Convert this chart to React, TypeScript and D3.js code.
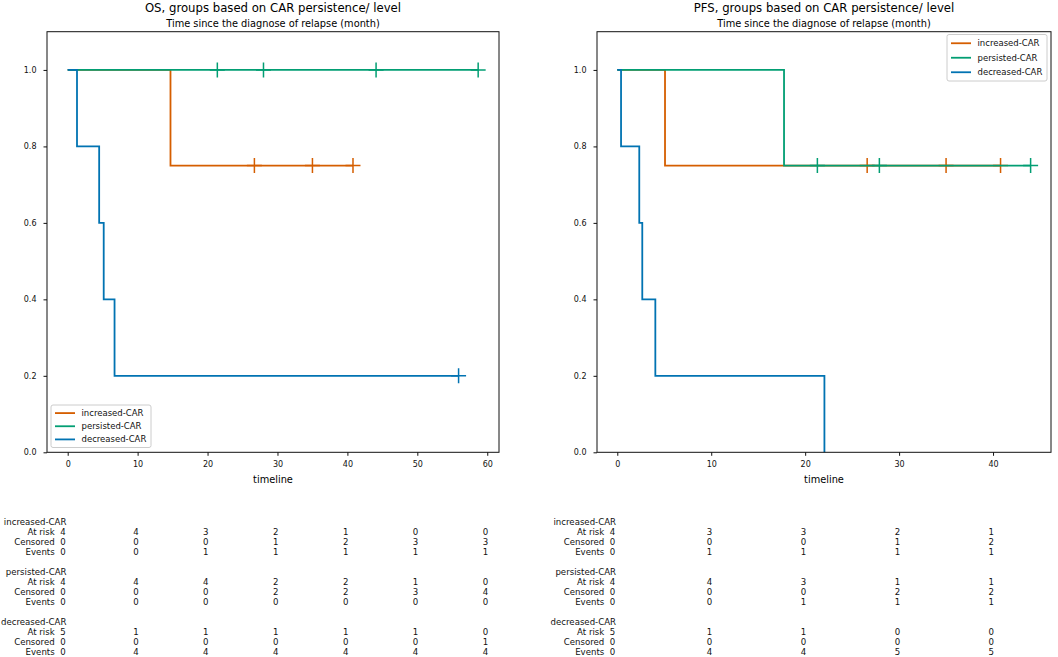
import { useEffect, useRef } from 'react';
import * as d3 from 'd3';

const groupNames = ['increased-CAR', 'persisted-CAR', 'decreased-CAR'];
const groupColors = ['#d55e00', '#029e73', '#0173b2'];

// OS curves (time in months, survival probability, censor times)
const osIncreasedTimes = [0, 14.7, 26.7, 35.0, 40.8];
const osIncreasedSurv = [1, 0.75, 0.75, 0.75, 0.75];
const osIncreasedCensor = [26.7, 35.0, 40.8];
const osPersistedTimes = [0, 21.4, 28.0, 44.1, 58.7];
const osPersistedSurv = [1, 1, 1, 1, 1];
const osPersistedCensor = [21.4, 28.0, 44.1, 58.7];
const osDecreasedTimes = [0, 1.33, 4.5, 5.15, 6.7, 55.9];
const osDecreasedSurv = [1, 0.8, 0.6, 0.4, 0.2, 0.2];
const osDecreasedCensor = [55.9];

// PFS curves
const pfsIncreasedTimes = [0, 5.08, 26.6, 35.0, 40.8];
const pfsIncreasedSurv = [1, 0.75, 0.75, 0.75, 0.75];
const pfsIncreasedCensor = [26.6, 35.0, 40.8];
const pfsPersistedTimes = [0, 17.75, 21.3, 27.9, 44.0];
const pfsPersistedSurv = [1, 0.75, 0.75, 0.75, 0.75];
const pfsPersistedCensor = [21.3, 27.9, 44.0];
const pfsDecreasedTimes = [0, 0.4, 2.34, 2.66, 4.05, 22.05];
const pfsDecreasedSurv = [1, 0.8, 0.6, 0.4, 0.2, 0];
const pfsDecreasedCensor: number[] = [];

// at-risk tables
const osTicks = [0, 10, 20, 30, 40, 50, 60];
const osIncreasedAtRisk = [4, 4, 3, 2, 1, 0, 0];
const osIncreasedCensored = [0, 0, 0, 1, 2, 3, 3];
const osIncreasedEvents = [0, 0, 1, 1, 1, 1, 1];
const osPersistedAtRisk = [4, 4, 4, 2, 2, 1, 0];
const osPersistedCensored = [0, 0, 0, 2, 2, 3, 4];
const osPersistedEvents = [0, 0, 0, 0, 0, 0, 0];
const osDecreasedAtRisk = [5, 1, 1, 1, 1, 1, 0];
const osDecreasedCensored = [0, 0, 0, 0, 0, 0, 1];
const osDecreasedEvents = [0, 4, 4, 4, 4, 4, 4];

const pfsTicks = [0, 10, 20, 30, 40];
const pfsIncreasedAtRisk = [4, 3, 3, 2, 1];
const pfsIncreasedCensored = [0, 0, 0, 1, 2];
const pfsIncreasedEvents = [0, 1, 1, 1, 1];
const pfsPersistedAtRisk = [4, 4, 3, 1, 1];
const pfsPersistedCensored = [0, 0, 0, 2, 2];
const pfsPersistedEvents = [0, 0, 1, 1, 1];
const pfsDecreasedAtRisk = [5, 1, 1, 0, 0];
const pfsDecreasedCensored = [0, 0, 0, 0, 0];
const pfsDecreasedEvents = [0, 4, 4, 5, 5];

const yTicks = [0, 0.2, 0.4, 0.6, 0.8, 1.0];
const rowLabels = ['At risk', 'Censored', 'Events'];

const FONT = 'DejaVu Sans, sans-serif';

const panels = [
  {
    title: 'OS, groups based on CAR persistence/ level',
    left: 47,
    right: 499,
    xDomain: [-2.96, 61.68],
    ticks: osTicks,
    curves: [
      { times: osIncreasedTimes, surv: osIncreasedSurv, censor: osIncreasedCensor },
      { times: osPersistedTimes, surv: osPersistedSurv, censor: osPersistedCensor },
      { times: osDecreasedTimes, surv: osDecreasedSurv, censor: osDecreasedCensor },
    ],
    table: [
      [osIncreasedAtRisk, osIncreasedCensored, osIncreasedEvents],
      [osPersistedAtRisk, osPersistedCensored, osPersistedEvents],
      [osDecreasedAtRisk, osDecreasedCensored, osDecreasedEvents],
    ],
    legend: { x: 51, y: 405, w: 100, h: 42.5 },
  },
  {
    title: 'PFS, groups based on CAR persistence/ level',
    left: 597,
    right: 1051,
    xDomain: [-2.16, 46.17],
    ticks: pfsTicks,
    curves: [
      { times: pfsIncreasedTimes, surv: pfsIncreasedSurv, censor: pfsIncreasedCensor },
      { times: pfsPersistedTimes, surv: pfsPersistedSurv, censor: pfsPersistedCensor },
      { times: pfsDecreasedTimes, surv: pfsDecreasedSurv, censor: pfsDecreasedCensor },
    ],
    table: [
      [pfsIncreasedAtRisk, pfsIncreasedCensored, pfsIncreasedEvents],
      [pfsPersistedAtRisk, pfsPersistedCensored, pfsPersistedEvents],
      [pfsDecreasedAtRisk, pfsDecreasedCensored, pfsDecreasedEvents],
    ],
    legend: { x: 947, y: 34.5, w: 100, h: 46.5 },
  },
];

const KMChart = () => {
  const ref = useRef<SVGSVGElement | null>(null);

  useEffect(() => {
    if (!ref.current) return;
    const svg = d3.select(ref.current);
    svg.selectAll('*').remove();
    const width = 1058;
    const height = 657;
    const top = 31.7;
    const bottom = 452.3;

    svg.attr('width', width).attr('height', height);

    panels.forEach((p) => {
      const g = svg.append('g');
      const x = d3.scaleLinear().domain(p.xDomain).range([p.left, p.right]);
      const y = d3.scaleLinear().domain([0, 1.1]).range([bottom, top]);
      const line = d3
        .line<[number, number]>()
        .curve(d3.curveStepAfter)
        .x((d) => x(d[0]))
        .y((d) => y(d[1]));

      p.curves.forEach((c, i) => {
        const pts = c.times.map((t, j) => [t, c.surv[j]] as [number, number]);
        g.append('path')
          .attr('d', line(pts))
          .attr('fill', 'none')
          .attr('stroke', groupColors[i])
          .attr('stroke-width', 1.8);
        c.censor.forEach((t) => {
          const idx = d3.bisectRight(c.times, t) - 1;
          g.append('path')
            .attr('transform', `translate(${x(t)},${y(c.surv[idx])})`)
            .attr('d', 'M-7.5,0H7.5M0,-7.5V7.5')
            .attr('stroke', groupColors[i])
            .attr('stroke-width', 1.5);
        });
      });

      // frame
      g.append('rect')
        .attr('x', p.left)
        .attr('y', top)
        .attr('width', p.right - p.left)
        .attr('height', bottom - top)
        .attr('fill', 'none')
        .attr('stroke', '#111')
        .attr('stroke-width', 1);

      const xAxis = g
        .append('g')
        .attr('transform', `translate(0,${bottom})`)
        .call(d3.axisBottom(x).tickValues(p.ticks).tickSize(3.5).tickPadding(6).tickFormat(d3.format('d')));
      const yAxis = g
        .append('g')
        .attr('transform', `translate(${p.left},0)`)
        .call(d3.axisLeft(y).tickValues(yTicks).tickSize(3.5).tickPadding(7).tickFormat(d3.format('.1f')));
      [xAxis, yAxis].forEach((a) => {
        a.select('.domain').remove();
        a.attr('font-family', FONT).attr('font-size', 8);
        a.selectAll('line').attr('stroke', '#111');
        a.selectAll('text').attr('fill', '#111');
      });

      const cx = (p.left + p.right) / 2;
      g.append('text')
        .attr('x', cx)
        .attr('y', 12)
        .attr('text-anchor', 'middle')
        .attr('font-family', FONT)
        .attr('font-size', 11.7)
        .text(p.title);
      g.append('text')
        .attr('x', cx)
        .attr('y', 26.5)
        .attr('text-anchor', 'middle')
        .attr('font-family', FONT)
        .attr('font-size', 9.8)
        .text('Time since the diagnose of relapse (month)');
      g.append('text')
        .attr('x', cx)
        .attr('y', 482.5)
        .attr('text-anchor', 'middle')
        .attr('font-family', FONT)
        .attr('font-size', 9.8)
        .text('timeline');

      // legend
      const lg = g.append('g');
      lg.append('rect')
        .attr('x', p.legend.x)
        .attr('y', p.legend.y)
        .attr('width', p.legend.w)
        .attr('height', p.legend.h)
        .attr('rx', 2)
        .attr('fill', 'rgba(255,255,255,0.8)')
        .attr('stroke', '#cccccc')
        .attr('stroke-width', 1);
      const rowH = (p.legend.h - 3) / 3;
      groupNames.forEach((name, i) => {
        const ly = p.legend.y + 1.5 + rowH * (i + 0.5);
        lg.append('line')
          .attr('x1', p.legend.x + 4)
          .attr('x2', p.legend.x + 24)
          .attr('y1', ly)
          .attr('y2', ly)
          .attr('stroke', groupColors[i])
          .attr('stroke-width', 1.8);
        lg.append('text')
          .attr('x', p.legend.x + 30.5)
          .attr('y', ly + 3)
          .attr('font-family', FONT)
          .attr('font-size', 8.5)
          .attr('fill', '#111')
          .text(name);
      });

      // at-risk table
      const tg = g.append('g').attr('font-family', FONT).attr('font-size', 8.6).attr('fill', '#111');
      const x0 = x(p.ticks[0]);
      p.table.forEach((rows, gi) => {
        const yName = 521.7 + gi * 50 + 3;
        tg.append('text').attr('x', x0 - 1.2).attr('y', yName).attr('text-anchor', 'end').text(groupNames[gi]);
        rows.forEach((vals, ri) => {
          const yy = yName + (ri + 1) * 10;
          tg.append('text').attr('x', x0 - 13).attr('y', yy).attr('text-anchor', 'end').text(rowLabels[ri]);
          vals.forEach((v, k) => {
            const tx = k === 0 ? x0 - 2 : x(p.ticks[k]) + 1;
            tg.append('text').attr('x', tx).attr('y', yy).attr('text-anchor', 'end').text(v);
          });
        });
      });
    });
  }, []);

  return <svg ref={ref} style={{ position: 'absolute', left: 0, top: 0, background: '#fff' }} />;
};

export default function App() {
  return <KMChart />;
}
